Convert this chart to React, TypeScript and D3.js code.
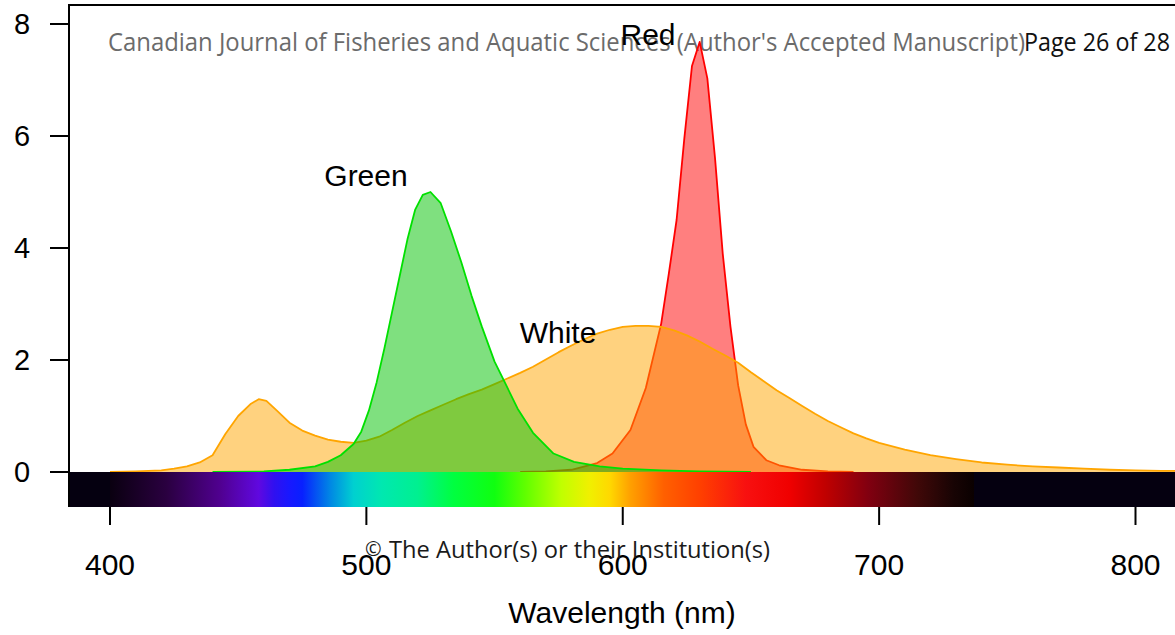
import { useEffect, useRef } from "react";
import * as d3 from "d3";

// emission spectra (relative intensity)
const whiteNm = [400, 410, 420, 425, 430, 435, 440, 445, 450, 455, 458, 461, 465, 470, 475, 480, 485, 490, 495, 500, 505, 510, 515, 520, 525, 530, 535, 540, 545, 550, 555, 560, 565, 570, 575, 580, 585, 590, 595, 600, 605, 610, 615, 620, 625, 630, 635, 640, 645, 650, 655, 660, 665, 670, 675, 680, 685, 690, 695, 700, 710, 720, 730, 740, 750, 760, 770, 780, 790, 800, 810, 820];
const whiteVal = [0, 0.01, 0.03, 0.06, 0.1, 0.17, 0.3, 0.68, 1.0, 1.22, 1.3, 1.27, 1.1, 0.88, 0.74, 0.65, 0.58, 0.54, 0.52, 0.56, 0.63, 0.75, 0.88, 1.0, 1.1, 1.2, 1.3, 1.39, 1.47, 1.57, 1.67, 1.77, 1.88, 2.01, 2.14, 2.26, 2.37, 2.47, 2.54, 2.59, 2.61, 2.61, 2.59, 2.53, 2.44, 2.33, 2.2, 2.08, 1.95, 1.78, 1.62, 1.46, 1.32, 1.18, 1.04, 0.91, 0.8, 0.69, 0.6, 0.52, 0.4, 0.3, 0.23, 0.17, 0.13, 0.1, 0.08, 0.06, 0.04, 0.03, 0.02, 0.02];

const greenNm = [440, 460, 470, 480, 485, 490, 495, 498, 501, 504, 507, 510, 513, 516, 519, 522, 525, 529, 533, 537, 541, 545, 550, 554, 559, 565, 573, 581, 591, 600, 615, 630, 650];
const greenVal = [0, 0.01, 0.04, 0.1, 0.18, 0.3, 0.5, 0.72, 1.1, 1.6, 2.2, 2.85, 3.5, 4.15, 4.68, 4.95, 5.0, 4.8, 4.3, 3.75, 3.15, 2.6, 1.97, 1.6, 1.13, 0.7, 0.33, 0.18, 0.1, 0.06, 0.03, 0.01, 0];

const redNm = [560, 570, 580, 590, 596, 603, 609, 615, 618, 621, 624, 627, 630, 633, 636, 639, 642, 645, 648, 651, 656, 661, 670, 680, 690];
const redVal = [0, 0.01, 0.04, 0.16, 0.33, 0.75, 1.5, 2.65, 3.55, 4.5, 5.95, 7.25, 7.68, 7.03, 5.6, 3.9, 2.6, 1.55, 0.85, 0.45, 0.21, 0.12, 0.04, 0.01, 0];

const xTicks = [400, 500, 600, 700, 800];
const yTicks = [0, 2, 4, 6, 8];

// colour bar under the axis
const spectrumNm = [400, 422, 443, 458, 464, 470, 475, 486, 495, 506, 520, 534, 550, 562, 576, 587, 595, 603, 616, 630, 648, 665, 679, 696, 715, 729, 737];
const spectrumColors = ["#0a0010", "#2a0040", "#500090", "#6008e0", "#3010f0", "#1818ff", "#0820ff", "#0088e4", "#00d0d0", "#00e8b0", "#00f090", "#00ff40", "#10ff10", "#60ff00", "#c0ff00", "#f0f000", "#ffd800", "#ffa000", "#ff6000", "#ff4000", "#f81010", "#f00000", "#c00000", "#800010", "#400808", "#180404", "#0a0000"];

const W = 1175;
const H = 635;

function renderChart(el: SVGSVGElement) {
  const svg = d3.select(el);
  svg.selectAll("*").remove();

  const x = d3.scaleLinear().domain([400, 800]).range([110, 1135.5]);
  const y = d3.scaleLinear().domain([0, 8]).range([472, 24]);
  const left = 69;
  const barBottom = y(-0.625);

  // header text from the manuscript page
  svg
    .append("text")
    .attr("x", 108)
    .attr("y", 51)
    .attr("font-family", "Open Sans, sans-serif")
    .attr("font-size", 25)
    .attr("fill", "#6b6b6b")
    .attr("textLength", 917)
    .attr("lengthAdjust", "spacingAndGlyphs")
    .text("Canadian Journal of Fisheries and Aquatic Sciences (Author's Accepted Manuscript)");
  svg
    .append("text")
    .attr("x", 1024)
    .attr("y", 51)
    .attr("font-family", "Open Sans, sans-serif")
    .attr("font-size", 25)
    .attr("fill", "#111")
    .attr("textLength", 146)
    .attr("lengthAdjust", "spacingAndGlyphs")
    .text("Page 26 of 28");

  const area = (nm: number[], v: number[]) =>
    d3
      .area<number>()
      .x((d) => x(nm[d]))
      .y0(y(0))
      .y1((d) => y(v[d]))(d3.range(nm.length));
  const line = (nm: number[], v: number[]) =>
    d3
      .line<number>()
      .x((d) => x(nm[d]))
      .y((d) => y(v[d]))(d3.range(nm.length));

  const series = [
    { nm: redNm, v: redVal, fill: "rgba(255,0,0,0.5)", stroke: "#ff0000" },
    { nm: whiteNm, v: whiteVal, fill: "rgba(255,165,0,0.5)", stroke: "#ffa500" },
    { nm: greenNm, v: greenVal, fill: "rgba(0,193,0,0.5)", stroke: "#00e000" },
  ];
  series.forEach((s) => {
    svg.append("path").attr("d", area(s.nm, s.v)).attr("fill", s.fill);
    svg
      .append("path")
      .attr("d", line(s.nm, s.v))
      .attr("fill", "none")
      .attr("stroke", s.stroke)
      .attr("stroke-width", 1.8)
      .attr("stroke-linejoin", "round");
  });

  // spectrum bar
  const grad = svg
    .append("defs")
    .append("linearGradient")
    .attr("id", "spec")
    .attr("gradientUnits", "userSpaceOnUse")
    .attr("x1", x(400))
    .attr("x2", x(737))
    .attr("y1", 0)
    .attr("y2", 0);
  spectrumNm.forEach((nm, i) => {
    grad
      .append("stop")
      .attr("offset", (nm - 400) / (737 - 400))
      .attr("stop-color", spectrumColors[i]);
  });
  svg
    .append("rect")
    .attr("x", left)
    .attr("y", y(0))
    .attr("width", W - left)
    .attr("height", barBottom - y(0))
    .attr("fill", "#050010");
  svg
    .append("rect")
    .attr("x", x(400))
    .attr("y", y(0))
    .attr("width", x(737) - x(400))
    .attr("height", barBottom - y(0))
    .attr("fill", "url(#spec)");

  // frame (left + top)
  svg
    .append("path")
    .attr("d", `M${left},${barBottom}V5H${W}`)
    .attr("fill", "none")
    .attr("stroke", "#000")
    .attr("stroke-width", 2);

  const axisFont = "Liberation Sans, Arial, Helvetica, sans-serif";

  // y axis
  const yAxis = svg.append("g");
  yTicks.forEach((t) => {
    yAxis
      .append("line")
      .attr("x1", 50)
      .attr("x2", left)
      .attr("y1", y(t))
      .attr("y2", y(t))
      .attr("stroke", "#000")
      .attr("stroke-width", 2);
    yAxis
      .append("text")
      .attr("x", 22)
      .attr("y", y(t))
      .attr("dy", "0.36em")
      .attr("text-anchor", "middle")
      .attr("font-family", axisFont)
      .attr("font-size", 29)
      .text(t);
  });

  // x axis
  const xAxis = svg.append("g");
  xTicks.forEach((t) => {
    xAxis
      .append("line")
      .attr("x1", x(t))
      .attr("x2", x(t))
      .attr("y1", barBottom)
      .attr("y2", 525)
      .attr("stroke", "#000")
      .attr("stroke-width", 2);
    xAxis
      .append("text")
      .attr("x", x(t))
      .attr("y", 575)
      .attr("text-anchor", "middle")
      .attr("font-family", axisFont)
      .attr("font-size", 30)
      .text(t);
  });
  svg
    .append("text")
    .attr("x", 622)
    .attr("y", 623)
    .attr("text-anchor", "middle")
    .attr("font-family", axisFont)
    .attr("font-size", 30)
    .text("Wavelength (nm)");

  // series labels
  const labels = [
    { t: "Red", nm: 629.5, v: 7.68 },
    { t: "Green", nm: 501, v: 5.0 },
    { t: "White", nm: 575, v: 2.61 },
  ];
  const labelPos = [
    [648, 45],
    [366, 186],
    [558, 343],
  ];
  labels.forEach((l, i) => {
    svg
      .append("text")
      .attr("x", labelPos[i][0])
      .attr("y", labelPos[i][1])
      .attr("text-anchor", "middle")
      .attr("font-family", axisFont)
      .attr("font-size", 30)
      .attr("fill", "#000")
      .text(l.t);
  });

  // copyright line
  svg
    .append("text")
    .attr("x", 365)
    .attr("y", 556)
    .attr("font-family", "Open Sans, sans-serif")
    .attr("font-size", 20)
    .attr("fill", "#1a1a1a")
    .text("©");
  svg
    .append("text")
    .attr("x", 389)
    .attr("y", 558)
    .attr("font-family", "Open Sans, sans-serif")
    .attr("font-size", 24)
    .attr("fill", "#1a1a1a")
    .attr("textLength", 381)
    .attr("lengthAdjust", "spacingAndGlyphs")
    .text("The Author(s) or their Institution(s)");
}

export default function App() {
  const ref = useRef<SVGSVGElement>(null);
  useEffect(() => {
    if (ref.current) renderChart(ref.current);
  }, []);
  return (
    <svg
      ref={ref}
      width={W}
      height={H}
      style={{ position: "absolute", left: 0, top: 0, background: "#fff" }}
    />
  );
}
